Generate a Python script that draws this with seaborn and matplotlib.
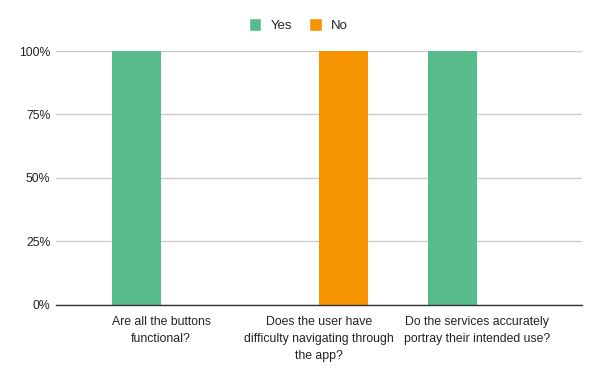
import pandas as pd
import matplotlib
matplotlib.use('Agg')
import matplotlib.pyplot as plt
import seaborn as sns
from matplotlib.patches import Patch

# Survey answers (share of responses)
questions = [
    "Are all the buttons\nfunctional?",
    "Does the user have\ndifficulty navigating through\nthe app?",
    "Do the services accurately\nportray their intended use?",
]
yes_share = [1.0, 0.0, 1.0]
no_share = [0.0, 1.0, 0.0]
answers = ["Yes", "No"]
yticks = [0, 0.25, 0.5, 0.75, 1.0]
ytick_labels = ["0%", "25%", "50%", "75%", "100%"]

df = pd.DataFrame({
    "Question": questions * 2,
    "Answer": ["Yes"] * 3 + ["No"] * 3,
    "Share": yes_share + no_share,
})

sns.set_style("white")
plt.rcParams['font.family'] = ['Liberation Sans', 'DejaVu Sans']

fig, ax = plt.subplots(figsize=(6, 3.71), dpi=100)
fig.subplots_adjust(left=0.0933, right=0.97, top=0.8625, bottom=0.178)

palette = {"Yes": "#57BB8A", "No": "#F59300"}
sns.barplot(data=df, x="Question", y="Share", hue="Answer", hue_order=answers,
            palette=palette, width=0.62, linewidth=0, saturation=1, ax=ax, legend=False)

ax.set_xlim(-0.665, 2.665)
ax.set_ylim(0, 1.0)
ax.set_yticks(yticks)
ax.set_yticklabels(ytick_labels)
ax.yaxis.grid(True, color="#cccccc", linewidth=1)
ax.set_axisbelow(True)
for s in ["top", "right", "left"]:
    ax.spines[s].set_visible(False)
ax.spines["bottom"].set_color("#333333")
ax.spines["bottom"].set_linewidth(1)
ax.tick_params(axis="y", length=0, pad=4, labelsize=8.8, labelcolor="#222222")
ax.tick_params(axis="x", length=0, pad=8, labelsize=8.8, labelcolor="#222222")
for lbl in ax.get_xticklabels():
    lbl.set_linespacing(1.55)
ax.set_xlabel("")
ax.set_ylabel("")

# Legend at top
handles = [Patch(facecolor=palette[a], label=a) for a in answers]
fig.legend(handles=handles, loc="center", bbox_to_anchor=(0.497, 0.932), ncol=2,
           frameon=False, fontsize=9.5, handlelength=0.95, handleheight=1.1,
           handletextpad=0.7, columnspacing=1.3, labelcolor="#222222")

plt.savefig("out.png", dpi=100)
